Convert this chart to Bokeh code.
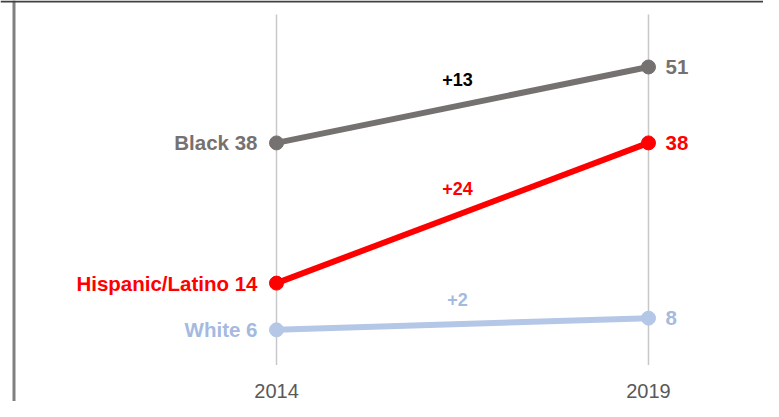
from bokeh.plotting import figure
from bokeh.models import ColumnDataSource, Range1d, Span
from bokeh.core.properties import value
from bokeh.embed import file_html
from bokeh.resources import INLINE

# ---- data ----
years = [2014, 2019]
groups = ["Black", "Hispanic/Latino", "White"]
v2014 = [38, 14, 6]
v2019 = [51, 38, 8]
line_colors = ["#767171", "#ff0000", "#b4c7e7"]
text_colors = ["#767171", "#ff0000", "#a4badf"]
delta_colors = ["#000000", "#ff0000", "#a4badf"]
y_top = 60

FONT = value("Liberation Sans")
W, H = 763, 401

p = figure(width=W, height=H, output_backend="svg", toolbar_location=None,
           x_range=Range1d(2010.29, 2020.546), y_range=Range1d(-6.265, 62.38),
           min_border=0, outline_line_color=None, background_fill_color="white")
p.xaxis.visible = False
p.yaxis.visible = False
p.xgrid.visible = False
p.ygrid.visible = False

# frame lines (decoration)
p.add_layout(Span(location=13.5, location_units="screen", dimension="height",
                  line_color="#808080", line_width=3))
p.add_layout(Span(location=H - 1, location_units="screen", dimension="width",
                  line_color="#404040", line_width=2))

# vertical year lines
p.segment(x0=years, y0=[0, 0], x1=years, y1=[y_top, y_top],
          line_color="#c8c8c8", line_width=1.5)

# year labels
p.text(x=years, y=[-4.4, -4.4], text=[str(y) for y in years], text_font=FONT,
       text_font_size="20px", text_color="#595959", text_align="center",
       text_baseline="middle")

for g, a, b, lc, tc, dc in zip(groups, v2014, v2019, line_colors, text_colors, delta_colors):
    src = ColumnDataSource(dict(x=years, y=[a, b]))
    p.line("x", "y", source=src, line_color=lc, line_width=6)
    p.scatter("x", "y", source=src, size=14, fill_color=lc, line_color=lc)
    p.text(x=[years[0]], y=[a], text=[f"{g} {a}"], text_font=FONT, text_font_style="bold",
           text_font_size="20.5px", text_color=tc, text_align="right",
           text_baseline="middle", x_offset=-19)
    p.text(x=[years[1]], y=[b], text=[f"{b}"], text_font=FONT, text_font_style="bold",
           text_font_size="20.5px", text_color=tc, text_align="left",
           text_baseline="middle", x_offset=17)
    p.text(x=[(years[0] + years[1]) / 2], y=[(a + b) / 2], text=[f"+{b - a}"],
           text_font=FONT, text_font_style="bold", text_font_size="18px",
           text_color=dc, text_align="center", text_baseline="middle",
           x_offset=-5, y_offset=-25)

open("out.html", "w").write(file_html(p, INLINE))
